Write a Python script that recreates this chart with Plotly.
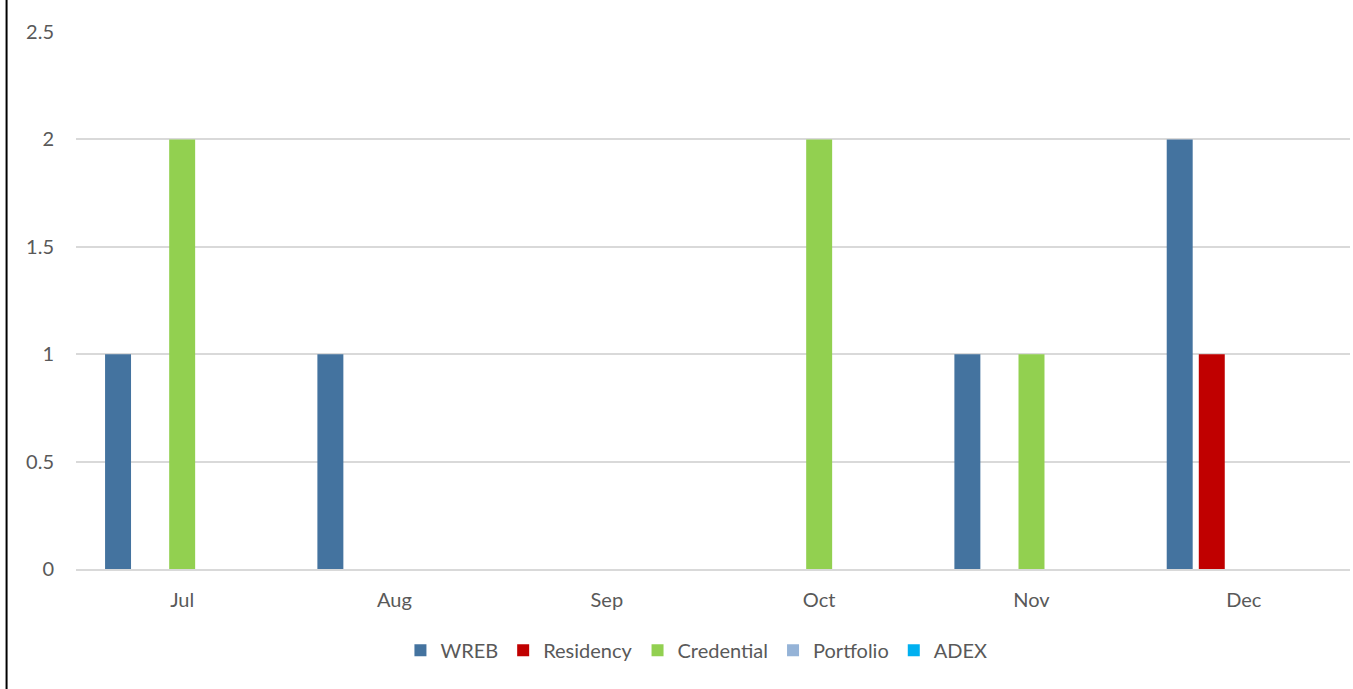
import plotly.graph_objects as go

months = ["Jul", "Aug", "Sep", "Oct", "Nov", "Dec"]
series_names = ["WREB", "Residency", "Credential", "Portfolio", "ADEX"]
wreb = [1, 1, 0, 0, 1, 2]
residency = [0, 0, 0, 0, 0, 1]
credential = [2, 0, 0, 2, 1, 0]
portfolio = [0, 0, 0, 0, 0, 0]
adex = [0, 0, 0, 0, 0, 0]
colors = ["#44739F", "#C00000", "#92D050", "#95B3D7", "#00B0F0"]
y_ticks = [0, 0.5, 1, 1.5, 2, 2.5]
y_tick_text = ["0", "0.5", "1", "1.5", "2", "2.5"]

values = [wreb, residency, credential, portfolio, adex]

fig = go.Figure()
for name, vals, col in zip(series_names, values, colors):
    fig.add_trace(go.Bar(x=months, y=vals, name=name, marker=dict(color=col, line=dict(width=0))))

font_family = "Lato, 'Open Sans', sans-serif"
fig.update_layout(
    width=1353, height=689,
    autosize=False,
    paper_bgcolor="white", plot_bgcolor="white",
    margin=dict(l=76, r=3, t=32, b=120),
    barmode="group", bargap=0.245, bargroupgap=0.19,
    font=dict(family=font_family, size=20, color="#595959"),
    showlegend=True,
    legend=dict(orientation="h", x=0.487, xanchor="center", y=-0.115, yanchor="top",
                font=dict(size=20, color="#595959"), itemwidth=30, tracegroupgap=0),
    xaxis=dict(showgrid=False, showline=True, linecolor="#D9D9D9", linewidth=2,
               ticks="", tickfont=dict(size=20, color="#595959"), ticklabelstandoff=12),
    yaxis=dict(range=[0, 2.5], tickvals=y_ticks, ticktext=y_tick_text, showgrid=True,
               gridcolor="#D9D9D9", gridwidth=2, zeroline=False, showline=False,
               ticks="", tickfont=dict(size=20, color="#595959"), ticklabelstandoff=21),
    shapes=[dict(type="line", xref="paper", yref="paper", x0=-0.0545, x1=-0.0545,
                 y0=-0.3, y1=1.1, line=dict(color="black", width=2))],
)

fig.write_html("out.html")
